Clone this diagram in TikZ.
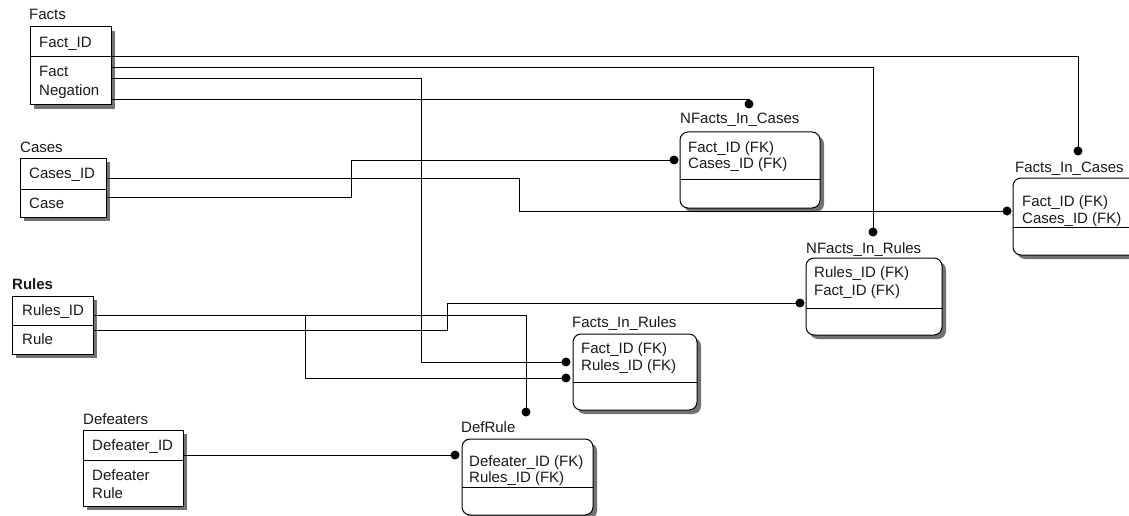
\documentclass[tikz,border=0pt]{standalone}
\usepackage{fontspec}
\setmainfont{Liberation Sans}
\usetikzlibrary{fit,shadows}
\begin{document}
\begin{tikzpicture}[x=1pt,y=-1pt,
  ent/.style={draw=black, line width=1pt, fill=white, inner sep=0pt,
    drop shadow={shadow xshift=4pt, shadow yshift=-4pt, fill=black!55, opacity=1}},
  dep/.style={ent, rounded corners=8pt},
  divline/.style={draw=black, line width=1pt},
  conn/.style={draw=black, line width=1pt},
  txt/.style={anchor=base west, inner sep=0pt, font=\fontsize{15}{17}\selectfont, text=black!90},
  dot/.style={fill=black}]
\useasboundingbox (0,0) rectangle (1129,516);
\clip (0,0) rectangle (1129,516);
\fill[white] (0,0) rectangle (1129,516);

% ---------- entity boxes ----------
\node[ent, fit={(30,27) (111,105)}] (facts) {};
\node[ent, fit={(20,158) (106,217)}] (cases) {};
\node[ent, fit={(12,296) (93,354)}] (rules) {};
\node[ent, fit={(83,430) (183,506)}] (defeaters) {};
\node[dep, fit={(680,132) (820,208)}] (nfic) {};
\node[dep, fit={(1013,178) (1153,255)}] (fic) {};
\node[dep, fit={(806,258) (942,335)}] (nfir) {};
\node[dep, fit={(573,334) (697,410)}] (fir) {};
\node[dep, fit={(462,439) (593,515)}] (defrule) {};

% dividers
\draw[divline] (facts.west |- 0,57) -- (facts.east |- 0,57);
\draw[divline] (cases.west |- 0,189) -- (cases.east |- 0,189);
\draw[divline] (rules.west |- 0,325) -- (rules.east |- 0,325);
\draw[divline] (defeaters.west |- 0,460) -- (defeaters.east |- 0,460);
\draw[divline] (nfic.west |- 0,179) -- (nfic.east |- 0,179);
\draw[divline] (fic.west |- 0,227) -- (fic.east |- 0,227);
\draw[divline] (nfir.west |- 0,308) -- (nfir.east |- 0,308);
\draw[divline] (fir.west |- 0,382) -- (fir.east |- 0,382);
\draw[divline] (defrule.west |- 0,487) -- (defrule.east |- 0,487);

% ---------- titles ----------
\node[txt] (facts-t) at (29,20) {Facts};
\node[txt] (cases-t) at (20,153) {Cases};
\node[txt, font=\fontsize{15}{17}\selectfont\bfseries] (rules-t) at (12,289) {Rules};
\node[txt] (defeaters-t) at (83,424) {Defeaters};
\node[txt] (nfic-t) at (680,124) {NFacts\_In\_Cases};
\node[txt] (fic-t) at (1015,172) {Facts\_In\_Cases};
\node[txt] (nfir-t) at (806,253) {NFacts\_In\_Rules};
\node[txt] (fir-t) at (572,327) {Facts\_In\_Rules};
\node[txt] (defrule-t) at (461,432) {DefRule};

% ---------- attributes ----------
\node[txt] (facts-a1) at (39,48) {Fact\_ID};
\node[txt] (facts-a2) at (39,77) {Fact};
\node[txt] (facts-a3) at (39,96) {Negation};
\node[txt] (cases-a1) at (29,178) {Cases\_ID};
\node[txt] (cases-a2) at (29,208) {Case};
\node[txt] (rules-a1) at (22,315) {Rules\_ID};
\node[txt] (rules-a2) at (22,344) {Rule};
\node[txt] (def-a1) at (92,450) {Defeater\_ID};
\node[txt] (def-a2) at (92,480) {Defeater};
\node[txt] (def-a3) at (92,498) {Rule};
\node[txt] (nfic-a1) at (688,152) {Fact\_ID (FK)};
\node[txt] (nfic-a2) at (688,168) {Cases\_ID (FK)};
\node[txt] (fic-a1) at (1022,206) {Fact\_ID (FK)};
\node[txt] (fic-a2) at (1022,223) {Cases\_ID (FK)};
\node[txt] (nfir-a1) at (814,277) {Rules\_ID (FK)};
\node[txt] (nfir-a2) at (814,295) {Fact\_ID (FK)};
\node[txt] (fir-a1) at (581,353) {Fact\_ID (FK)};
\node[txt] (fir-a2) at (581,370) {Rules\_ID (FK)};
\node[txt] (defrule-a1) at (469,466) {Defeater\_ID (FK)};
\node[txt] (defrule-a2) at (469,482) {Rules\_ID (FK)};

% ---------- connector end points (dots) ----------
\coordinate (d-fic-top) at (1078,151);
\coordinate (d-fic-left) at (1007,211);
\coordinate (d-nfic-top) at (749,104);
\coordinate (d-nfic-left) at (674,160);
\coordinate (d-nfir-top) at (873,232);
\coordinate (d-nfir-left) at (800,303);
\coordinate (d-fir-1) at (566,362);
\coordinate (d-fir-2) at (566,378);
\coordinate (d-def-top) at (526,412);
\coordinate (d-def-left) at (455,455);

% ---------- connectors ----------
\draw[conn] (facts.east |- 0,57) -| (d-fic-top);
\draw[conn] (facts.east |- 0,68) -| (d-nfir-top);
\draw[conn] (facts.east |- 0,79) -| (421,362) -- (d-fir-1);
\draw[conn] (facts.east |- 0,100) -| (d-nfic-top);
\draw[conn] (cases.east |- 0,178) -| (519,211) -- (d-fic-left);
\draw[conn] (cases.east |- 0,197) -| (351,160) -- (d-nfic-left);
\draw[conn] (rules.east |- 0,315) -| (d-def-top);
\draw[conn] (rules.east |- 0,315) -| (305,378) -- (d-fir-2);
\draw[conn] (rules.east |- 0,330) -| (447,303) -- (d-nfir-left);
\draw[conn] (defeaters.east |- 0,455) -- (d-def-left);

\foreach \d in {d-fic-top,d-fic-left,d-nfic-top,d-nfic-left,d-nfir-top,d-nfir-left,d-fir-1,d-fir-2,d-def-top,d-def-left}
  \fill[dot] (\d) circle (4.5);
\end{tikzpicture}
\end{document}
